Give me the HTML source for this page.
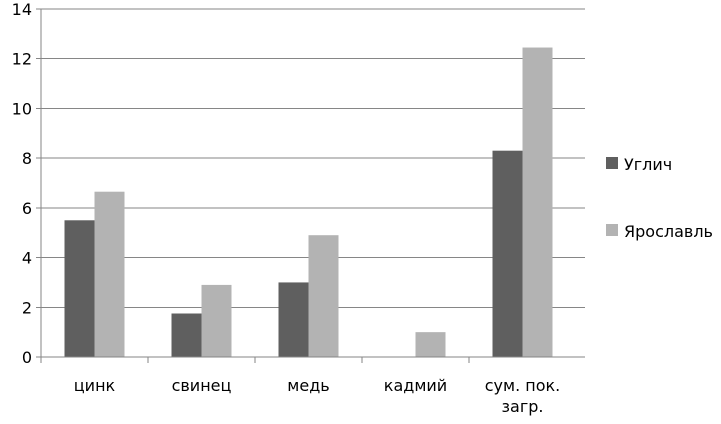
<!DOCTYPE html>
<html><head><meta charset="utf-8"><style>
body{margin:0;background:#fff;}
svg text{font-family:"DejaVu Sans","Liberation Sans",sans-serif;font-size:16px;fill:#000;}
</style></head><body>
<svg id="c" width="721" height="419"></svg>
<script>
const categories=["цинк","свинец","медь","кадмий","сум. пок.|загр."];
const uglich=[5.5,1.75,3.0,0,8.3];
const yaroslavl=[6.65,2.9,4.9,1.0,12.45];
const yTicks=[0,2,4,6,8,10,12,14];
const seriesNames=["Углич","Ярославль"];
const NS="http://www.w3.org/2000/svg";
const svg=document.getElementById('c');
const X0=41,X1=585,Y0=357,Y1=9,YMAX=14;
const y=v=>Y0-(v/YMAX)*(Y0-Y1);
const bw=107;
function mk(t,a,p){const e=document.createElementNS(NS,t);for(const k in a)e.setAttribute(k,a[k]);(p||svg).appendChild(e);return e;}
yTicks.forEach(t=>{
  const l=mk('line',{x1:X0-5,x2:X1,y1:y(t),y2:y(t),stroke:'#868686','stroke-width':1,'shape-rendering':'crispEdges'});
  
  
  const tx=mk('text',{x:X0-9,y:y(t)+6,'text-anchor':'end'});tx.textContent=t;
  
  
});
const colors=['#5f5f5f','#b3b3b3'];
[uglich,yaroslavl].forEach((s,si)=>{
  s.forEach((v,i)=>{
    const cx=X0+bw*(i+0.5);
    const r=mk('rect',{x:cx-30+si*30,y:y(v),width:30,height:Y0-y(v),fill:colors[si]});
    
    
  });
});
const ax=mk('line',{x1:X0,x2:X0,y1:Y1,y2:Y0,stroke:'#868686','shape-rendering':'crispEdges'});


const xa=mk('line',{x1:X0,x2:X1,y1:Y0,y2:Y0,stroke:'#868686','shape-rendering':'crispEdges'});


for(let i=0;i<categories.length;i++){
  const tk=mk('line',{x1:X0+bw*i,x2:X0+bw*i,y1:Y0,y2:Y0+6,stroke:'#868686','shape-rendering':'crispEdges'});
  
  
}
categories.forEach((c,i)=>{
  c.split('|').forEach((ln,j)=>{
    const t=mk('text',{x:X0+bw*(i+0.5),y:391+j*21,'text-anchor':'middle'});t.textContent=ln;
    
    
  });
});
seriesNames.forEach((n,i)=>{
  const g=mk('g',{});
  
  
  mk('rect',{x:606,y:157+i*67,width:12,height:12,fill:colors[i]},g);
  const t=mk('text',{x:624,y:170+i*67},g);t.textContent=n;
});
</script>
</body></html>
